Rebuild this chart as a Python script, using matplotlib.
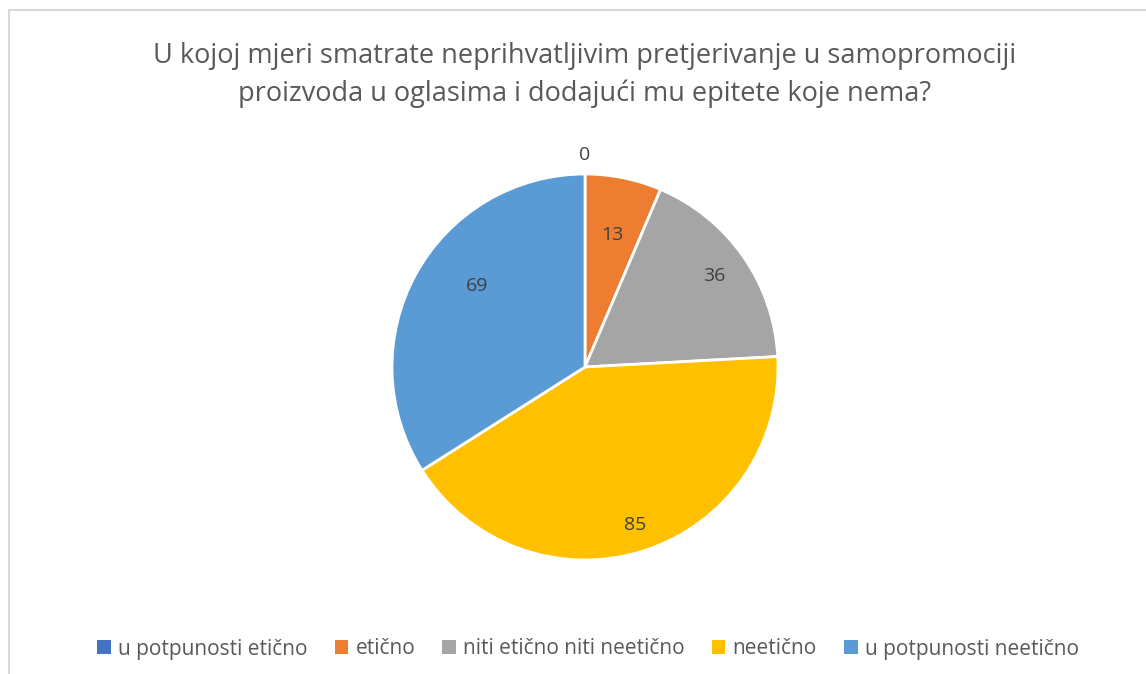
import numpy as np
import matplotlib.pyplot as plt
from matplotlib.patches import Rectangle

categories = ['u potpunosti etično', 'etično', 'niti etično niti neetično',
              'neetično', 'u potpunosti neetično']
values = [0, 13, 36, 85, 69]
colors = ['#4472C4', '#ED7D31', '#A5A5A5', '#FFC000', '#5B9BD5']
title = ('U kojoj mjeri smatrate neprihvatljivim pretjerivanje u samopromociji\n'
         'proizvoda u oglasima i dodajući mu epitete koje nema?')

plt.rcParams['font.family'] = ['Open Sans', 'DejaVu Sans']

fig = plt.figure(figsize=(11.46, 6.74), dpi=100)
fig.patch.set_facecolor('white')

# chart frame (cut off at right and bottom like the screenshot)
fig.add_artist(Rectangle((9 / 1146, -0.05), 1.1, 1 - 10 / 674 + 0.05,
                         transform=fig.transFigure, fill=False,
                         edgecolor='#D9D9D9', linewidth=1.5))

# pie centred at (585, 367) px, radius ~193 px
cx, cy, r = 585 / 1146, 1 - 367 / 674, 193
ax = fig.add_axes([cx - r / 1146, cy - r / 674, 2 * r / 1146, 2 * r / 674])
wedges, _ = ax.pie(values, colors=colors, startangle=90, counterclock=False,
                   wedgeprops=dict(edgecolor='white', linewidth=2))
ax.set_xlim(-1, 1)
ax.set_ylim(-1, 1)
ax.set_aspect('equal')
ax.axis('off')

# data labels (Excel "best fit" puts them at varying radius)
dist = [1.10, 0.70, 0.82, 0.86, 0.70]
shift = [0, 0, 0, 0, 8]  # small angular tweak in degrees
total = sum(values)
cum = np.cumsum([0] + values[:-1])
for v, c, d, s in zip(values, cum, dist, shift):
    ang = np.deg2rad((c + v / 2) / total * 360 + s)
    ax.text(d * np.sin(ang), d * np.cos(ang), str(v), ha='center', va='center',
            fontsize=14, color='#404040', clip_on=False)

fig.text(585 / 1146, 1 - 75 / 674, title, ha='center', va='center',
         fontsize=19.5, color='#595959', linespacing=1.42)

handles = [Rectangle((0, 0), 1, 1, facecolor=col) for col in colors]
fig.legend(handles, categories, loc='center', bbox_to_anchor=(588 / 1146, 1 - 649 / 674),
           ncol=5, frameon=False, fontsize=15, labelcolor='#595959',
           handlelength=0.65, handleheight=0.65, handletextpad=0.35, columnspacing=1.3)

fig.savefig('out.png', dpi=100)
